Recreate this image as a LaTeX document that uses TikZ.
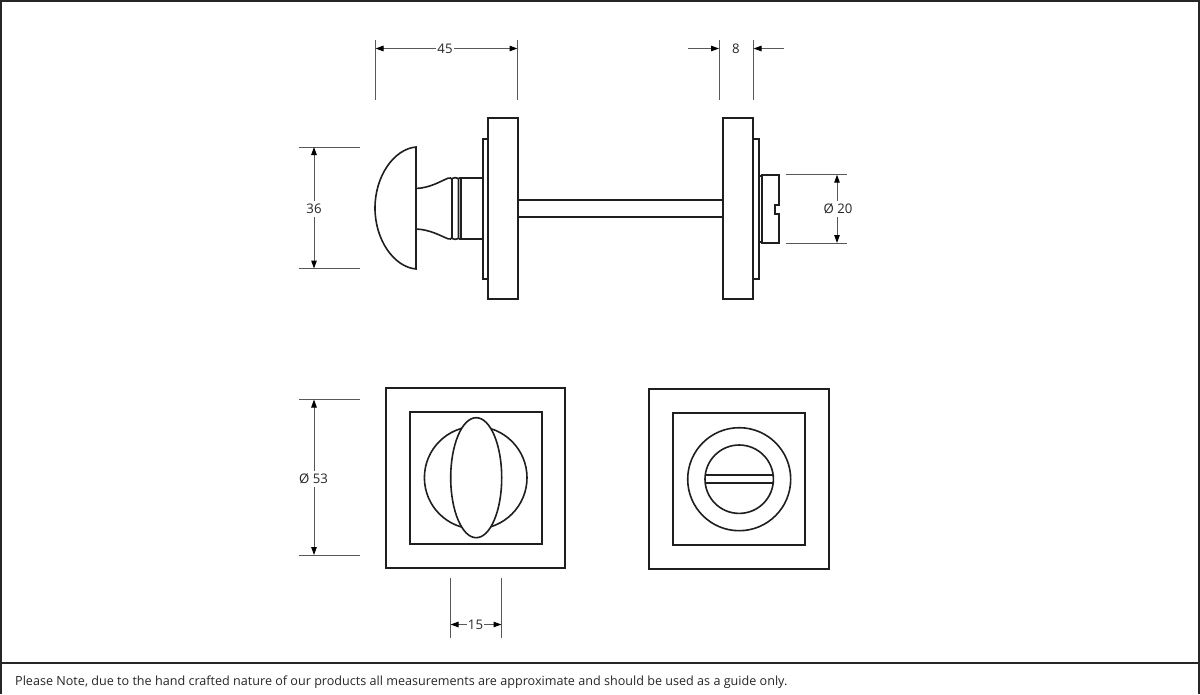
\documentclass[tikz,border=0pt]{standalone}
\usepackage{fontspec}
\setmainfont{Open Sans}
\usetikzlibrary{arrows.meta}
\tikzset{
  part/.style={draw=black!88,line width=1.8pt,fill=white,line join=miter},
  thin part/.style={draw=black!88,line width=1.6pt},
  ext/.style={draw=black!65,line width=1pt},
  dim/.style={draw=black!65,line width=1pt,{Stealth[inset=0pt,length=8pt,width=5.5pt,black]}-{Stealth[inset=0pt,length=8pt,width=5.5pt,black]}},
  lead/.style={draw=black!65,line width=1pt,-{Stealth[inset=0pt,length=8pt,width=5.5pt,black]}},
  lbl/.style={fill=white,inner sep=1pt,font=\fontsize{13.2}{15}\selectfont,text=black!85},
}
\begin{document}
\begin{tikzpicture}[x=1pt,y=-1pt]
\useasboundingbox (0,0) rectangle (1200,694);
\fill[white] (0,0) rectangle (1200,694);
% frame
\draw[black!85,line width=1.6pt] (1,694) -- (1,1) -- (1199,1) -- (1199,694);
\draw[black!85,line width=1.6pt] (1,663) -- (1199,663);
\node[anchor=west,inner sep=0pt,font=\fontsize{12.6}{16}\selectfont,text=black!85] (note) at (15,682) {Please Note, due to the hand crafted nature of our products all measurements are approximate and should be used as a guide only.};

% ---- side view: spindle
\draw[thin part] (518,200) -- (723,200) (518,217) -- (723,217);
% left rose & plate
\draw[part] (483,139) rectangle (488,279);
\draw[part] (488,118) rectangle (518,299);
% neck
\draw[thin part] (483,178) -- (461,178) -- (461,239) -- (483,239);
\draw[thin part] (416,188.5) .. controls (430,188) and (441,181) .. (448,178.2)
  .. controls (450,177.5) and (451.5,178) .. (452,179.5) -- (452,237.5)
  .. controls (451.5,239) and (450,239.5) .. (448,238.8)
  .. controls (441,236) and (430,229.5) .. (416,229);
\draw[thin part] (452,178.5) .. controls (454,177.4) and (456.5,177.4) .. (458.5,178.5) -- (458.5,238.5)
  .. controls (456.5,239.6) and (454,239.6) .. (452,238.5);
\draw[thin part] (458.5,178) -- (461,178) (458.5,239) -- (461,239);
% dome
\draw[thin part] (416,147) .. controls (394,149) and (375,176) .. (375,208)
  .. controls (375,240) and (394,267) .. (416,269) -- cycle;
% right plate, rose, turn
\draw[part] (723,118) rectangle (753,299);
\draw[part] (753,139) rectangle (759,279);
\draw[thin part] (759,176) -- (762,176) (759,242) -- (762,242);
\draw[part] (762,175) -- (779,175) -- (779,205) -- (775,205) -- (775,214) -- (779,214) -- (779,243) -- (762,243) -- cycle;

% ---- front views: left
\draw[part] (386,388) rectangle (565,568);
\draw[part] (410,412) rectangle (542,544);
\draw[thin part] (475.7,477.7) circle[radius=51.3];
\draw[thin part,fill=white] (476.2,477.7) ellipse[x radius=25.5,y radius=60];
% right
\draw[part] (649,389) rectangle (829,569);
\draw[part] (673,413) rectangle (805,545);
\draw[thin part] (739.2,479.2) circle[radius=51.5];
\draw[thin part] (739.2,479.2) circle[radius=34.2];
\draw[part,line width=2pt] (705.5,475) -- (773,475);
\draw[thin part] (705.5,483) -- (773,483);

% ---- dimensions
\coordinate (a1) at (375.5,48.5); \coordinate (a2) at (517.5,48.5);
\draw[ext] (375.5,40) -- (375.5,100);
\draw[ext] (517.5,40) -- (517.5,100);
\draw[dim] (a1) -- (a2);
\node[lbl] (l45) at (445,49) {45};

\coordinate (b1) at (688,48.5); \coordinate (b2) at (719,48.5);
\coordinate (b3) at (784,48.5); \coordinate (b4) at (753.5,48.5);
\draw[ext] (719,40) -- (719,100);
\draw[ext] (753.5,40) -- (753.5,100);
\draw[lead] (b1) -- (b2);
\draw[lead] (b3) -- (b4);
\node[lbl] (l8) at (736,49) {8};

\coordinate (c1) at (314,147); \coordinate (c2) at (314,268.5);
\draw[ext] (299,147) -- (360,147);
\draw[ext] (299,268.5) -- (360,268.5);
\draw[dim] (c1) -- (c2);
\node[lbl,inner ysep=3pt] (l36) at (314,209) {36};

\coordinate (d1) at (837,174.7); \coordinate (d2) at (837,243);
\draw[ext] (786,174.7) -- (847,174.7);
\draw[ext] (786,243) -- (847,243);
\draw[dim] (d1) -- (d2);
\node[lbl,inner ysep=3pt] (l20) at (838,209) {Ø 20};

\coordinate (e1) at (314,399.5); \coordinate (e2) at (314,555);
\draw[ext] (299,399.5) -- (360,399.5);
\draw[ext] (299,555) -- (360,555);
\draw[dim] (e1) -- (e2);
\node[lbl,inner ysep=3pt] (l53) at (313.5,479) {Ø 53};

\coordinate (f1) at (450.5,624.5); \coordinate (f2) at (501.5,624.5);
\draw[ext] (450.5,578) -- (450.5,638);
\draw[ext] (501.5,578) -- (501.5,638);
\draw[dim] (f1) -- (f2);
\node[lbl] (l15) at (475.5,625) {15};
\end{tikzpicture}
\end{document}
